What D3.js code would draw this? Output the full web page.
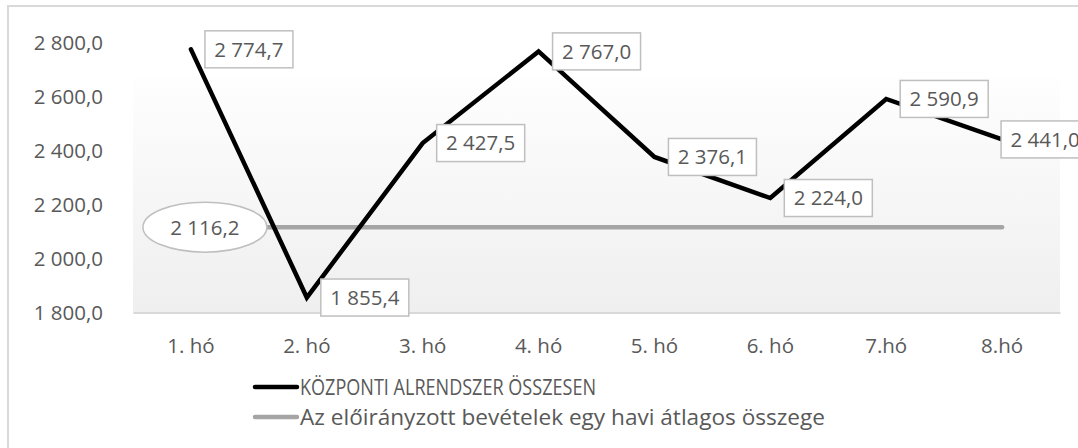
<!DOCTYPE html>
<html>
<head>
<meta charset="utf-8">
<script src="https://cdn.jsdelivr.net/npm/d3@7"></script>
<style>
  html, body { margin: 0; padding: 0; background: #ffffff; overflow: hidden; }
  svg { display: block; }
  text { font-family: "Open Sans", "Noto Sans", sans-serif; fill: #595959; }
</style>
</head>
<body>
<svg id="chart" width="1078" height="448"></svg>
<script>
// ---- data ----
const categories = ["1. hó", "2. hó", "3. hó", "4. hó", "5. hó", "6. hó", "7.hó", "8.hó"];
const totalValues = [2774.7, 1855.4, 2427.5, 2767.0, 2376.1, 2224.0, 2590.9, 2441.0];
const averageValue = 2116.2;
const averageValues = categories.map(() => averageValue);
const yTicks = [1800, 2000, 2200, 2400, 2600, 2800];
const seriesNames = ["KÖZPONTI ALRENDSZER ÖSSZESEN", "Az előirányzott bevételek egy havi átlagos összege"];

// ---- setup ----
const W = 1078, H = 448;
const svg = d3.select("#chart");
const loc = d3.formatLocale({ decimal: ",", thousands: "\u00a0", grouping: [3], currency: ["", ""] });
const fmt = loc.format(",.1f");

const plot = { left: 133, right: 1060, top: 42.5, bottom: 312.5 };

const x = d3.scaleBand().domain(categories).range([plot.left, plot.right]).padding(0);
const cx = c => x(c) + x.bandwidth() / 2;
const y = d3.scaleLinear().domain([1800, 2800]).range([plot.bottom, plot.top]);

// outer chart border (extends beyond the view)
svg.append("rect")
  .attr("x", 8).attr("y", 6).attr("width", 1200).attr("height", 600)
  .attr("fill", "#ffffff").attr("stroke", "#d9d9d9").attr("stroke-width", 2);

// plot area gradient
const defs = svg.append("defs");
const grad = defs.append("linearGradient").attr("id", "pa").attr("x1", 0).attr("y1", 0).attr("x2", 0).attr("y2", 1);
grad.append("stop").attr("offset", "0%").attr("stop-color", "#fefefe");
grad.append("stop").attr("offset", "100%").attr("stop-color", "#efefef");
svg.append("rect")
  .attr("x", plot.left).attr("y", 77)
  .attr("width", plot.right - plot.left).attr("height", plot.bottom - 77)
  .attr("fill", "url(#pa)");

// y axis (labels only)
const yAxis = d3.axisLeft(y).tickValues(yTicks).tickFormat(fmt).tickSize(0).tickPadding(0);
const gy = svg.append("g").attr("transform", "translate(103,0)").call(yAxis);
gy.select(".domain").remove();
gy.selectAll("text").attr("font-size", 20.5).attr("fill", "#595959")
  .style("font-family", "'Open Sans', sans-serif");

// x axis
const xAxis = d3.axisBottom(x).tickSize(0).tickPadding(0);
const gx = svg.append("g").attr("transform", `translate(0,${plot.bottom})`).call(xAxis);
gx.select(".domain").attr("stroke", "#d9d9d9").attr("stroke-width", 2);
gx.selectAll("text").attr("font-size", 20.5).attr("fill", "#595959")
  .attr("dy", null).attr("y", 40)
  .style("font-family", "'Open Sans', sans-serif");

// lines
const line = d3.line().x((d, i) => cx(categories[i])).y(d => y(d));
svg.append("path").datum(averageValues)
  .attr("d", line).attr("fill", "none")
  .attr("stroke", "#a5a5a5").attr("stroke-width", 4.5).attr("stroke-linecap", "round");
svg.append("path").datum(totalValues)
  .attr("d", line).attr("fill", "none")
  .attr("stroke", "#000000").attr("stroke-width", 4.5)
  .attr("stroke-linejoin", "miter").attr("stroke-linecap", "round");

// data labels for total series
const boxW = 88, boxH = 37;
const lab = svg.append("g").selectAll("g").data(totalValues).join("g")
  .attr("transform", (d, i) => {
    const px = cx(categories[i]);
    const left = i === totalValues.length - 1 ? px - 1 : px + 14;
    return `translate(${left},${y(d) - boxH / 2})`;
  });
lab.append("rect").attr("width", boxW).attr("height", boxH)
  .attr("fill", "#ffffff").attr("stroke", "#bfbfbf").attr("stroke-width", 1.5);
lab.append("text").attr("x", boxW / 2).attr("y", boxH / 2).attr("dy", "0.36em")
  .attr("text-anchor", "middle").attr("font-size", 20.5)
  .text(d => fmt(d));

// average label (ellipse)
const ax = cx(categories[0]) + 14, ay = y(averageValue);
svg.append("ellipse").attr("cx", ax).attr("cy", ay).attr("rx", 62).attr("ry", 25)
  .attr("fill", "#ffffff").attr("stroke", "#bfbfbf").attr("stroke-width", 1.5);
svg.append("text").attr("x", ax).attr("y", ay).attr("dy", "0.36em")
  .attr("text-anchor", "middle").attr("font-size", 20.5).text(fmt(averageValue));

// legend
const legendColors = ["#000000", "#a5a5a5"];
const legendLengths = [296, 525];
const lg = svg.append("g").selectAll("g").data(seriesNames).join("g")
  .attr("transform", (d, i) => `translate(255,${387 + i * 30})`);
lg.append("line").attr("x1", 0).attr("x2", 42).attr("y1", 0).attr("y2", 0)
  .attr("stroke", (d, i) => legendColors[i]).attr("stroke-width", 4.5).attr("stroke-linecap", "round");
lg.append("text").attr("x", 45).attr("y", 0).attr("dy", "0.36em")
  .attr("font-size", 21.5).text(d => d)
  .attr("textLength", (d, i) => legendLengths[i])
  .attr("lengthAdjust", "spacingAndGlyphs");
</script>
</body>
</html>
